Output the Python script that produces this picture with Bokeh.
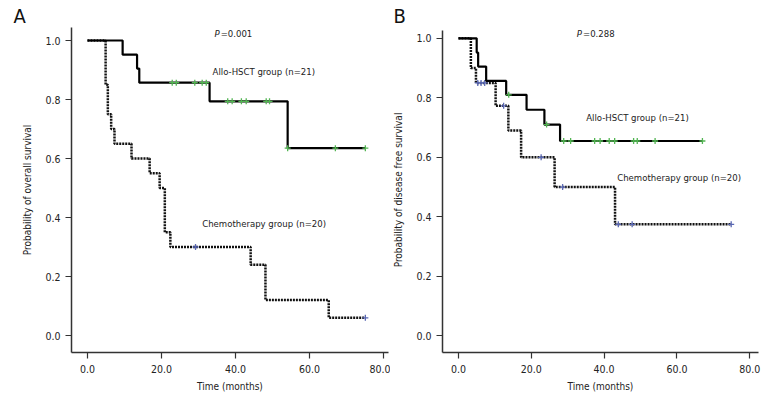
import numpy as np
from bokeh.plotting import figure
from bokeh.layouts import row
from bokeh.models import Range1d, Label, FixedTicker, PrintfTickFormatter, Title
from bokeh.embed import file_html
from bokeh.resources import INLINE

FONT = "DejaVu Sans Condensed"
TXT = "#222222"

# ---------------- data ----------------
x_ticks = [0, 20, 40, 60, 80]
y_ticks = [0.0, 0.2, 0.4, 0.6, 0.8, 1.0]

# Panel A: overall survival
a_allo_t = [0, 9.5, 13.4, 14.0, 33.0, 54.1]
a_allo_s = [1.0, 0.952, 0.905, 0.857, 0.794, 0.635]
a_allo_end = 75.1
a_allo_cens = [22.9, 24.0, 29.0, 31.0, 32.1, 37.9, 39.1, 41.6, 42.9, 48.3, 49.2, 54.1, 67.0, 75.1]

a_chemo_t = [0, 4.9, 5.5, 6.4, 7.3, 11.9, 16.8, 19.5, 20.9, 22.4, 44.1, 48.1, 65.2]
a_chemo_s = [1.0, 0.85, 0.75, 0.70, 0.65, 0.60, 0.55, 0.50, 0.35, 0.30, 0.24, 0.12, 0.06]
a_chemo_end = 75.1
a_chemo_cens = [29.2, 75.1]

# Panel B: disease free survival
b_allo_t = [0, 5.0, 5.4, 7.6, 13.1, 18.7, 23.6, 27.9]
b_allo_s = [1.0, 0.952, 0.905, 0.857, 0.81, 0.76, 0.71, 0.655]
b_allo_end = 67.0
b_allo_cens = [13.8, 24.2, 28.9, 30.8, 37.4, 38.9, 41.4, 42.9, 48.1, 49.1, 54.0, 67.0]

b_chemo_t = [0, 3.4, 4.8, 10.2, 13.7, 17.2, 26.4, 43.0]
b_chemo_s = [1.0, 0.90, 0.85, 0.773, 0.69, 0.60, 0.50, 0.375]
b_chemo_end = 74.9
b_chemo_cens = [5.3, 6.2, 7.2, 12.4, 22.7, 28.6, 43.9, 47.7, 74.9]

H = 418
TOP = 27
BOT = 66


def cens_y(t, s, c):
    idx = np.searchsorted(np.array(t), np.array(c), side="right") - 1
    return list(np.array(s)[idx])


def make_panel(xlo, xscale, ybot, ytop_axis, yscale, width, bl, br, ylabel, letter, loff):
    frame_h = H - TOP - BOT
    frame_w = width - bl - br
    ytop = ybot + frame_h / yscale
    xhi = xlo + frame_w / xscale
    p = figure(width=width, height=H, x_range=Range1d(xlo, xhi), y_range=Range1d(ybot, ytop),
               output_backend="svg", toolbar_location=None,
               min_border_left=bl, min_border_right=br, min_border_top=TOP,
               min_border_bottom=BOT)
    p.title.visible = False
    p.add_layout(Title(text=letter, text_font=FONT, text_font_size="20px",
                       text_font_style="normal", text_color="#111111",
                       align="left", offset=loff, standoff=0,
                       vertical_align="bottom",
                       text_line_height=0.8), "above")
    p.xgrid.visible = False
    p.ygrid.visible = False
    p.outline_line_color = None
    p.background_fill_color = "white"
    p.border_fill_color = "white"
    for ax in (p.xaxis[0], p.yaxis[0]):
        ax.axis_line_color = "#333333"
        ax.axis_line_width = 1.5
        ax.major_tick_line_color = "#333333"
        ax.major_tick_line_width = 1.2
        ax.major_tick_out = 6
        ax.major_tick_in = 0
        ax.minor_tick_line_color = None
        ax.major_label_text_font = FONT
        ax.major_label_text_font_size = "10.5px"
        ax.major_label_text_color = TXT
        ax.axis_label_text_font = FONT
        ax.axis_label_text_font_size = "10px"
        ax.axis_label_text_font_style = "normal"
        ax.axis_label_text_color = TXT
        ax.formatter = PrintfTickFormatter(format="%.1f")
    p.xaxis.ticker = FixedTicker(ticks=x_ticks)
    p.yaxis.ticker = FixedTicker(ticks=y_ticks)
    p.yaxis.bounds = (ybot, min(ytop, ytop_axis))
    p.xaxis.axis_label = "Time (months)"
    p.yaxis.axis_label = ylabel
    p.xaxis.major_label_standoff = 6
    p.xaxis.axis_label_standoff = 5
    p.yaxis.major_label_standoff = 5
    p.yaxis.axis_label_standoff = 9
    return p


def draw(p, t, s, end, cens, dotted, ccol):
    xs = list(t) + [end]
    ys = list(s) + [s[-1]]
    if dotted:
        p.step(xs, ys, mode="after", line_color="#111111", line_width=2.5, line_dash="2 1")
    else:
        p.step(xs, ys, mode="after", line_color="black", line_width=2.2)
    p.scatter(cens, cens_y(t, s, cens), marker="cross", size=6,
              line_color=ccol, line_width=1.3)


def lab(p, x, y, text, size="9.5px", style="normal"):
    p.add_layout(Label(x=x, y=y, text=text, text_font=FONT, text_font_size=size,
                       text_font_style=style, text_color=TXT, text_baseline="middle",
                       text_align="left"))


GREEN = "#52b552"
BLUE = "#5a68b4"

# Panel A
pa = make_panel(-4.32, 3.7, -0.0576, 1.047, 295.0, 390, 71, 2,
                "Probability of overall survival", "A", -58)
draw(pa, a_chemo_t, a_chemo_s, a_chemo_end, a_chemo_cens, True, BLUE)
draw(pa, a_allo_t, a_allo_s, a_allo_end, a_allo_cens, False, GREEN)
lab(pa, 34.3, 1.024, "P", style="italic")
lab(pa, 36.0, 1.024, "=0.001")
lab(pa, 33.8, 0.896, "Allo-HSCT group (n=21)")
lab(pa, 31.0, 0.379, "Chemotherapy group (n=20)")

# Panel B
pb = make_panel(-4.39, 3.71, -0.056, 1.026, 297.5, 390, 46, 22,
                "Probability of disease free survival", "B", -49)
draw(pb, b_chemo_t, b_chemo_s, b_chemo_end, b_chemo_cens, True, BLUE)
draw(pb, b_allo_t, b_allo_s, b_allo_end, b_allo_cens, False, GREEN)
lab(pb, 32.5, 1.016, "P", style="italic")
lab(pb, 34.2, 1.016, "=0.288")
lab(pb, 35.1, 0.734, "Allo-HSCT group (n=21)")
lab(pb, 43.6, 0.532, "Chemotherapy group (n=20)")

layout = row(pa, pb)
open("out.html", "w").write(file_html(layout, INLINE))
